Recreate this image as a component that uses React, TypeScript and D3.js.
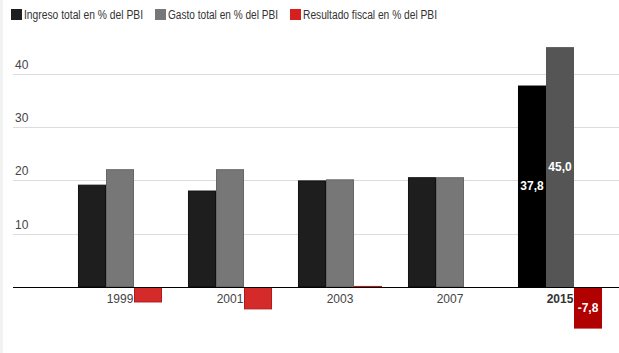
import { useEffect, useRef } from 'react';
import * as d3 from 'd3';

const YEARS = ['1999', '2001', '2003', '2007', '2015'];
const INGRESO = [19.2, 18.1, 20.0, 20.6, 37.8];
const GASTO = [22.1, 22.1, 20.2, 20.6, 45.0];
const RESULTADO = [-2.9, -4.2, 0.2, 0, -7.8];
const SERIES_NAMES = ['Ingreso total en % del PBI', 'Gasto total en % del PBI', 'Resultado fiscal en % del PBI'];
const Y_TICKS = [10, 20, 30, 40];

const COLORS = ['#1e1e1e', '#777777', '#d52a2a'];
const STROKES = ['#111111', '#666666', '#b01a1a'];
const HILITE = ['#000000', '#555555', '#b00000'];
const HIGHLIGHT_YEAR = '2015';

const W = 619, H = 353;
const FONT = '"Liberation Sans", Arial, sans-serif';

export default function App() {
  const svgRef = useRef<SVGSVGElement>(null);

  useEffect(() => {
    if (!svgRef.current) return;
    const svg = d3.select(svgRef.current);
    svg.selectAll('*').remove();

    const left = 13;
    const y = d3.scaleLinear().domain([0, 45]).range([287, 287 - 45 * 5.33]);
    const x = d3.scaleBand<string>().domain(YEARS).range([65, 615]).paddingInner(0.236).paddingOuter(0.118);
    const xs = d3.scaleBand<number>().domain([0, 1, 2]).range([0, x.bandwidth()]);

    svg.append('rect').attr('width', W).attr('height', H).attr('fill', '#fff');
    svg.append('rect').attr('x', 0).attr('y', 0).attr('width', 3).attr('height', H).attr('fill', '#f2f2f2');

    // legend (narrow type: squeeze Liberation Sans to the measured widths)
    const leg = svg.append('g').attr('font-family', FONT).attr('font-size', 12);
    const legX = [11, 155, 290];
    const legW = [119, 110, 134];
    SERIES_NAMES.forEach((name, i) => {
      leg.append('rect').attr('x', legX[i]).attr('y', 9).attr('width', 11).attr('height', 11)
        .attr('fill', i === 2 ? '#d62020' : COLORS[i]);
      leg.append('text').attr('x', legX[i] + 13).attr('y', 19)
        .attr('textLength', legW[i]).attr('lengthAdjust', 'spacingAndGlyphs')
        .attr('fill', '#333').text(name);
    });

    // grid
    const grid = svg.append('g');
    Y_TICKS.forEach(t => {
      grid.append('line').attr('x1', left).attr('x2', W).attr('y1', Math.round(y(t)) + 0.5).attr('y2', Math.round(y(t)) + 0.5)
        .attr('stroke', '#dcdcdc');
      grid.append('text').attr('x', 15).attr('y', y(t) - 5).attr('font-family', FONT).attr('font-size', 12)
        .attr('fill', '#444').text(String(t));
    });

    const series = [INGRESO, GASTO, RESULTADO];
    const bars = svg.append('g');
    YEARS.forEach((yr, gi) => {
      const hi = yr === HIGHLIGHT_YEAR;
      series.forEach((vals, si) => {
        const v = vals[gi];
        if (v === 0) return;
        const bx = (x(yr) ?? 0) + (xs(si) ?? 0);
        const y0 = y(Math.max(0, v)), y1 = y(Math.min(0, v));
        bars.append('rect').attr('x', bx + 0.5).attr('y', y0 + 0.5)
          .attr('width', xs.bandwidth() - 1).attr('height', Math.max(0.5, y1 - y0 - 1))
          .attr('fill', hi ? HILITE[si] : COLORS[si])
          .attr('stroke', hi ? HILITE[si] : STROKES[si]).attr('stroke-width', 1);
        if (hi) {
          bars.append('text').attr('x', bx + xs.bandwidth() / 2).attr('y', (y0 + y1) / 2)
            .attr('dy', '0.35em').attr('text-anchor', 'middle').attr('font-family', FONT)
            .attr('font-size', 12).attr('font-weight', 700).attr('fill', '#fff')
            .text(d3.format('.1f')(v).replace('.', ',').replace('\u2212', '-'));
        }
      });
    });

    // baseline
    svg.append('line').attr('x1', left).attr('x2', W).attr('y1', y(0) + 0.5).attr('y2', y(0) + 0.5)
      .attr('stroke', '#000');

    // year labels
    YEARS.forEach(yr => {
      svg.append('text').attr('x', (x(yr) ?? 0) + x.bandwidth() / 2).attr('y', 302.5)
        .attr('text-anchor', 'middle').attr('font-family', FONT).attr('font-size', 12)
        .attr('font-weight', yr === HIGHLIGHT_YEAR ? 700 : 400)
        .attr('fill', yr === HIGHLIGHT_YEAR ? '#333' : '#444').text(yr);
    });
  }, []);

  return (
    <svg ref={svgRef} width={W} height={H} style={{ position: 'absolute', left: 0, top: 0, display: 'block' }} />
  );
}
